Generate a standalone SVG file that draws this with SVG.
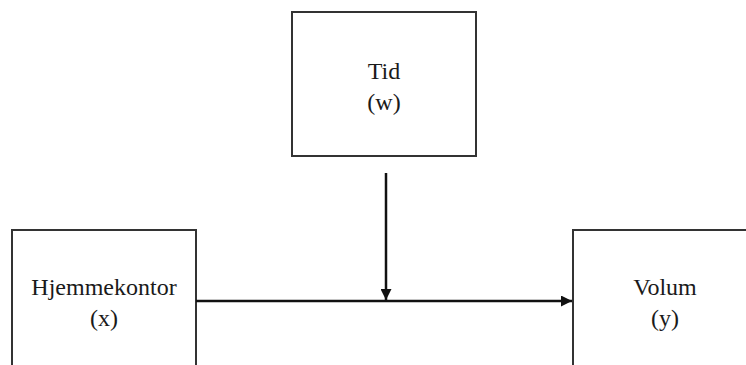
<svg xmlns="http://www.w3.org/2000/svg" width="746" height="365" viewBox="0 0 746 365">
  <style>
    .box { fill: #ffffff; stroke: #333333; stroke-width: 2; }
    .lbl { font-family: "Liberation Serif", "Times New Roman", serif; font-size: 24px; fill: #1a1a1a; text-anchor: middle; }
    .edge { stroke: #111111; stroke-width: 2.5; fill: none; }
  </style>
  <defs>
    <marker id="arrow" viewBox="0 0 10 10" refX="10" refY="5" markerWidth="4.4" markerHeight="4.4" orient="auto" markerUnits="strokeWidth">
      <path d="M0,0 L10,5 L0,10 Z" fill="#111111"/>
    </marker>
  </defs>
  <rect width="746" height="365" fill="#ffffff"/>

  <g id="node-tid">
    <rect class="box" x="292" y="12" width="184" height="144"/>
    <text class="lbl" x="384" y="79">Tid</text>
    <text class="lbl" x="384" y="110">(w)</text>
  </g>

  <g id="node-hjemmekontor">
    <rect class="box" x="12" y="230" width="184" height="150"/>
    <text class="lbl" x="104" y="295">Hjemmekontor</text>
    <text class="lbl" x="104" y="326">(x)</text>
  </g>

  <g id="node-volum">
    <rect class="box" x="573" y="230" width="190" height="150"/>
    <text class="lbl" x="665" y="295">Volum</text>
    <text class="lbl" x="665" y="326">(y)</text>
  </g>

  <g id="connectors">
    <line class="edge" x1="196" y1="301" x2="572" y2="301" marker-end="url(#arrow)"/>
    <line class="edge" x1="386" y1="173" x2="386" y2="300" marker-end="url(#arrow)"/>
  </g>
</svg>
